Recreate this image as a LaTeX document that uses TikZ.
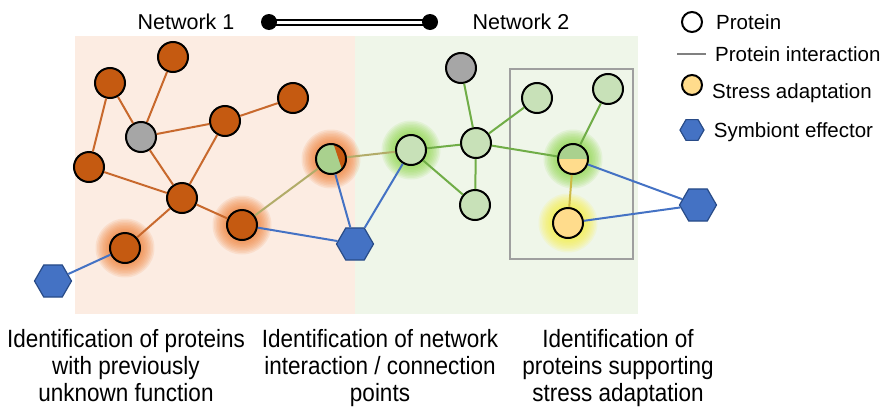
\documentclass[tikz,border=0pt]{standalone}
\usepackage{fontspec}
\setmainfont{Liberation Sans}
\newfontfamily\narrowfont[FakeStretch=0.9]{Liberation Sans}
\usetikzlibrary{shapes.geometric, positioning}
\pgfdeclarelayer{back}
\pgfdeclarelayer{halo}
\pgfsetlayers{back,halo,main}

\definecolor{netonebg}{RGB}{252,236,226}
\definecolor{nettwobg}{RGB}{239,246,233}
\definecolor{protorange}{RGB}{197,90,17}
\definecolor{protgreen}{RGB}{200,225,184}
\definecolor{protgreendark}{RGB}{169,209,142}
\definecolor{protgray}{RGB}{166,166,166}
\definecolor{stressyellow}{RGB}{255,220,140}
\definecolor{effblue}{RGB}{68,114,196}
\definecolor{effbluedark}{RGB}{40,75,135}
\definecolor{linkorange}{RGB}{200,105,45}
\definecolor{linkgreen}{RGB}{112,173,71}
\definecolor{linkolive}{RGB}{178,172,105}
\definecolor{linkyellow}{RGB}{205,185,70}
\definecolor{linkblue}{RGB}{68,114,196}
\definecolor{gloworange}{RGB}{240,125,50}
\definecolor{glowgreen}{RGB}{140,215,70}
\definecolor{glowyellow}{RGB}{250,240,60}

\tikzset{
  protein/.style={circle, draw=black, line width=2pt, minimum size=30pt, inner sep=0pt},
  effector/.style={regular polygon, regular polygon sides=6, draw=effbluedark, line width=1.2pt,
                   fill=effblue, minimum size=37pt, inner sep=0pt},
  link/.style={line width=2pt},
  caption/.style={font=\narrowfont\fontsize{25}{27}\selectfont, align=center, anchor=base},
  netlabel/.style={font=\fontsize{21.5}{24}\selectfont},
  legtext/.style={font=\fontsize{20.5}{24}\selectfont, inner sep=0pt, anchor=west},
}

\begin{document}
\begin{tikzpicture}[x=1pt, y=-1pt]
    \useasboundingbox (0,0) rectangle (883,407);

    % fondos de las dos redes
    \begin{pgfonlayer}{back}
        \fill[netonebg] (75,36) rectangle (355,314);
        \fill[nettwobg] (355,36) rectangle (638,314);
        \draw[gray!75, line width=1.5pt] (510,69) rectangle (633,259);
    \end{pgfonlayer}

    % --- Red 1 ---
    \node[protein, fill=protorange] (o1) at (173,57) {};
    \node[protein, fill=protorange] (o2) at (110,83) {};
    \node[protein, fill=protorange] (o3) at (293,98) {};
    \node[protein, fill=protorange] (o4) at (225,121) {};
    \node[protein, fill=protgray] (gA) at (141,137) {};
    \node[protein, fill=protorange] (o5) at (89,167) {};
    \node[protein, fill=protorange] (o6) at (182,198) {};
    \node[protein, fill=protorange] (o7) at (242,225) {};
    \node[protein, fill=protorange] (o8) at (125,248) {};
    \node[effector] (hexL) at (53,281) {};

    % punto de conexion entre redes
    \node[protein, fill=protgreendark, path picture={
        \fill[protorange] (path picture bounding box.center) ++(-45:16pt)
            arc[start angle=-45, end angle=82, radius=16pt] -- cycle;}] (mix1) at (331,159) {};
    \node[effector] (hexM) at (355,244) {};

    % --- Red 2 ---
    \node[protein, fill=protgreen] (g1) at (411,150) {};
    \node[protein, fill=protgray] (gB) at (461,68) {};
    \node[protein, fill=protgreen] (g2) at (476,143) {};
    \node[protein, fill=protgreen] (g3) at (537,98) {};
    \node[protein, fill=protgreen] (g4) at (475,205) {};
    \node[protein, fill=protgreen] (g5) at (608,89) {};
    \node[protein, fill=protgreendark, path picture={
        \fill[stressyellow] (path picture bounding box.west) rectangle
            (path picture bounding box.south east);}] (mix2) at (573,159) {};
    \node[protein, fill=stressyellow] (yel) at (568,223) {};
    \node[effector] (hexR) at (698,205) {};

    % halos
    \begin{pgfonlayer}{halo}
        \foreach \n/\c in {o7/gloworange, o8/gloworange, mix1/gloworange,
                           g1/glowgreen, mix2/glowgreen, yel/glowyellow}
            \foreach \r in {16,17.5,...,29.5}
                \fill[\c, opacity=0.12] (\n) circle (\r pt);
    \end{pgfonlayer}

    % interacciones
    \foreach \a/\b in {o2/gA, o1/gA, gA/o4, o4/o3, o2/o5, o5/o6, gA/o6, o4/o6, o6/o8, o6/o7}
        \draw[link, linkorange] (\a) -- (\b);
    \foreach \a/\b in {g1/g2, gB/g2, g2/g3, g2/g4, g1/g4, g2/mix2, g5/mix2}
        \draw[link, linkgreen] (\a) -- (\b);
    \draw[link, linkolive] (o7) -- (mix1);
    \draw[link, linkolive] (mix1) -- (g1);
    \draw[link, linkyellow] (mix2) -- (yel);
    \foreach \a/\b in {hexL/o8, o7/hexM, mix1/hexM, g1/hexM, mix2/hexR, yel/hexR}
        \draw[link, linkblue] (\a) -- (\b);

    % titulos y barra
    \node[netlabel] (net1) at (186,22) {Network 1};
    \node[netlabel] (net2) at (521,22) {Network 2};
    \coordinate (barL) at (269,22);
    \coordinate (barR) at (430,22);
    \draw[double, double distance=3pt, line width=2pt] (barL) -- (barR);
    \fill (barL) circle (8pt);
    \fill (barR) circle (8pt);

    % leyenda
    \node[protein, fill=white, minimum size=20pt] (legprot) at (692,22) {};
    \node[legtext, right=13pt of legprot] (legprottxt) {Protein};
    \coordinate (leglineL) at (677,54);
    \coordinate (leglineR) at (706,54);
    \draw[gray, line width=1.2pt] (leglineL) -- (leglineR);
    \node[legtext, right=9pt of leglineR] (leglinetxt) {Protein interaction};
    \node[protein, fill=stressyellow, minimum size=20pt] (legyel) at (692,85) {};
    \node[legtext, right=9pt of legyel, yshift=-8pt] (legyeltxt) {Stress adaptation};
    \node[effector, minimum size=24pt] (leghex) at (692,130) {};
    \node[legtext, right=9pt of leghex, yshift=-2pt] (leghextxt) {Symbiont effector};

    % textos inferiores
    \node[caption] (cap1) at (126,401) {Identification of proteins\\with previously\\unknown function};
    \node[caption] (cap2) at (380,401) {Identification of network\\interaction / connection\\points};
    \node[caption] (cap3) at (618,401) {Identification of\\proteins supporting\\stress adaptation};

\end{tikzpicture}
\end{document}
